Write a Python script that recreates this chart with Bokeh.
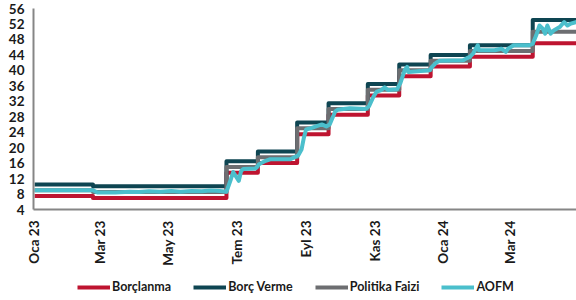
import pandas as pd
from math import pi
from bokeh.plotting import figure
from bokeh.layouts import column
from bokeh.models import FixedTicker, Legend, LegendItem, Range1d
from bokeh.embed import file_html
from bokeh.resources import INLINE

# Policy decision dates (last entry = end of data) and rates (%)
decision_dates = ["2023-01-02", "2023-02-23", "2023-06-22", "2023-07-20", "2023-08-24",
                  "2023-09-21", "2023-10-26", "2023-11-23", "2023-12-21", "2024-01-25",
                  "2024-03-21", "2024-04-29"]
borclanma = [7.5, 7.0, 13.5, 16.0, 23.5, 28.5, 33.5, 38.5, 41.0, 43.5, 47.0, 47.0]
borc_verme = [10.5, 10.0, 16.5, 19.0, 26.5, 31.5, 36.5, 41.5, 44.0, 46.5, 53.0, 53.0]
politika_faizi = [9.0, 8.5, 15.0, 17.5, 25.0, 30.0, 35.0, 40.0, 42.5, 45.0, 50.0, 50.0]

# AOFM (weighted average funding cost)
aofm_dates = ["2023-01-02", "2023-02-23", "2023-02-27", "2023-03-15", "2023-03-28", "2023-04-05",
              "2023-04-14", "2023-04-24", "2023-05-04", "2023-05-12", "2023-05-22", "2023-05-31",
              "2023-06-08", "2023-06-16", "2023-06-22", "2023-06-26", "2023-06-28", "2023-07-03",
              "2023-07-05", "2023-07-07", "2023-07-18", "2023-07-21", "2023-07-27", "2023-07-31",
              "2023-08-18", "2023-08-22", "2023-08-25", "2023-08-28", "2023-08-30", "2023-09-01",
              "2023-09-06", "2023-09-15", "2023-09-19", "2023-09-22", "2023-09-27", "2023-09-29",
              "2023-10-10", "2023-10-24", "2023-10-27", "2023-10-31", "2023-11-03", "2023-11-07",
              "2023-11-10", "2023-11-13", "2023-11-21", "2023-11-24", "2023-11-28", "2023-11-30",
              "2023-12-01", "2023-12-12", "2023-12-20", "2023-12-22", "2023-12-26", "2023-12-29",
              "2024-01-19", "2024-01-22", "2024-01-25", "2024-01-28", "2024-02-01", "2024-02-02",
              "2024-02-16", "2024-02-22", "2024-02-26", "2024-02-28", "2024-03-04", "2024-03-18",
              "2024-03-21", "2024-03-24", "2024-03-27", "2024-03-30", "2024-04-01", "2024-04-03",
              "2024-04-06", "2024-04-09", "2024-04-14", "2024-04-18", "2024-04-21", "2024-04-24",
              "2024-04-29"]
aofm = [9.0, 9.0, 8.4, 8.4, 8.6, 8.5,
        8.7, 8.6, 8.8, 8.6, 8.8, 8.7,
        8.9, 8.8, 8.6, 11.9, 13.7, 11.4,
        13.9, 14.5, 14.6, 15.7, 16.6, 17.0,
        17.0, 17.6, 18.0, 19.6, 22.6, 24.7,
        25.1, 26.0, 25.5, 26.0, 29.4, 29.8,
        30.2, 30.0, 30.7, 33.2, 34.5, 34.9,
        35.6, 34.9, 35.1, 36.7, 40.1, 40.9,
        39.6, 39.8, 40.0, 40.8, 42.0, 42.5,
        42.6, 43.1, 43.5, 44.4, 46.5, 45.2,
        45.2, 45.6, 44.8, 45.6, 46.5, 46.5,
        46.9, 49.0, 51.6, 50.8, 49.5, 51.6,
        49.5, 50.4, 51.2, 52.5, 51.6, 52.1,
        52.5]

tick_dates = ["2023-01-01", "2023-03-01", "2023-05-01", "2023-07-01", "2023-09-01",
              "2023-11-01", "2024-01-01", "2024-03-01"]
tick_labels = ["Oca 23", "Mar 23", "May 23", "Tem 23", "Eyl 23", "Kas 23", "Oca 24", "Mar 24"]
y_ticks = [4, 8, 12, 16, 20, 24, 28, 32, 36, 40, 44, 48, 52, 56]

series_names = ["Borçlanma", "Borç Verme", "Politika Faizi", "AOFM"]
colors = ["#BE1430", "#0E4552", "#6D6E71", "#4BBFCC"]

FONT = "Lato"
TXT = "#1a1a1a"

dd = pd.to_datetime(decision_dates)
ad = pd.to_datetime(aofm_dates)
x_start = pd.Timestamp("2023-01-01")
x_end = pd.Timestamp("2024-04-29")

p = figure(width=576, height=268, x_axis_type="datetime", output_backend="svg",
           toolbar_location=None, x_range=Range1d(x_start, x_end), y_range=Range1d(4, 56),
           min_border_left=33, min_border_right=0, min_border_top=8, min_border_bottom=57)
p.outline_line_color = None
p.xgrid.grid_line_color = None
p.ygrid.grid_line_color = None

for vals, col in zip([borclanma, borc_verme, politika_faizi], colors[:3]):
    p.step(x=dd, y=vals, mode="after", line_color=col, line_width=4, line_join="round")
p.line(x=ad, y=aofm, line_color=colors[3], line_width=4, line_join="round")

ms_ticks = [int(pd.Timestamp(d).value // 10**6) for d in tick_dates]
p.xaxis.ticker = FixedTicker(ticks=ms_ticks)
p.xaxis.major_label_overrides = {t: l for t, l in zip(ms_ticks, tick_labels)}
p.xaxis.major_label_orientation = pi / 2
p.yaxis.ticker = FixedTicker(ticks=y_ticks)

for ax in [p.xaxis[0], p.yaxis[0]]:
    ax.axis_line_color = "#868686"
    ax.axis_line_width = 2
    ax.major_tick_line_color = None
    ax.minor_tick_line_color = None
    ax.major_tick_out = 0
    ax.major_tick_in = 0
    ax.minor_tick_out = 0
    ax.minor_tick_in = 0
    ax.major_label_text_font = FONT
    ax.major_label_text_font_style = "bold"
    ax.major_label_text_font_size = "13.5px"
    ax.major_label_text_color = TXT
p.xaxis.major_label_standoff = 11
p.yaxis.major_label_standoff = 9

# legend strip below the chart (legend proxies hold no visible data)
lp = figure(width=576, height=32, output_backend="svg", toolbar_location=None,
            x_range=Range1d(0, 1), y_range=Range1d(0, 1),
            x_axis_location=None, y_axis_location=None,
            min_border_left=0, min_border_right=0, min_border_top=0, min_border_bottom=0)
lp.outline_line_color = None
lp.xgrid.grid_line_color = None
lp.ygrid.grid_line_color = None
nan = float("nan")
legend_renderers = [lp.line(x=[nan], y=[nan], line_color=c, line_width=4) for c in colors]

legend = Legend(items=[LegendItem(label=n, renderers=[r]) for n, r in zip(series_names, legend_renderers)],
                location=(44, 6), orientation="horizontal", glyph_width=33, glyph_height=14,
                label_standoff=2, spacing=22, padding=0, margin=0, border_line_color=None,
                background_fill_alpha=0, label_text_font=FONT, label_text_font_style="bold",
                label_text_font_size="12.5px", label_text_color=TXT)
lp.add_layout(legend)

layout = column(p, lp, spacing=0)
open("out.html", "w").write(file_html(layout, INLINE))
